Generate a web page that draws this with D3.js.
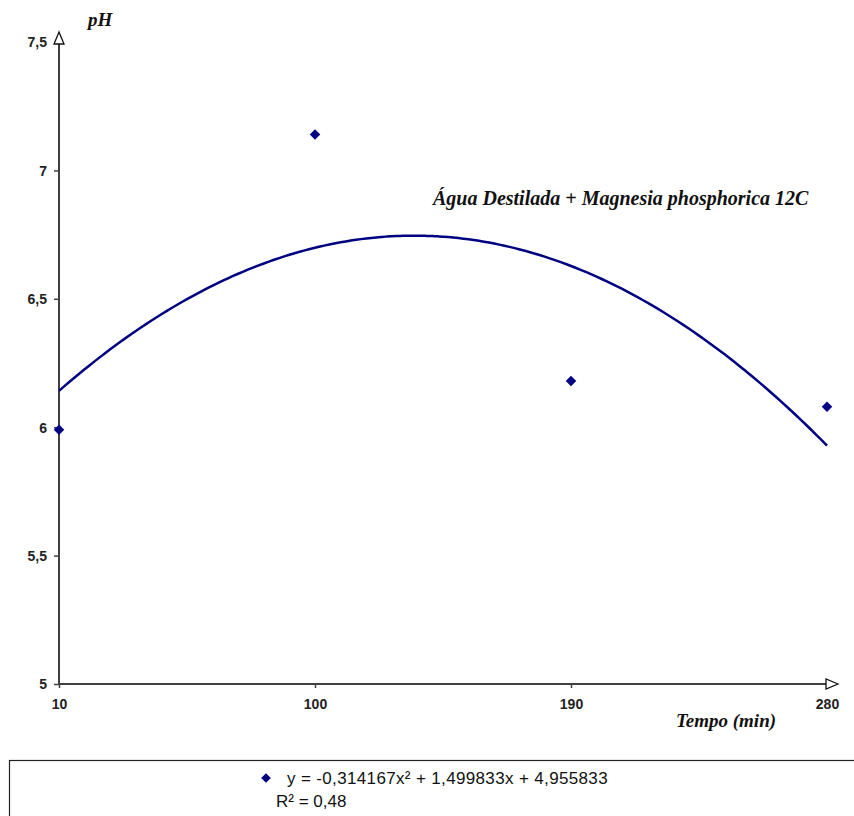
<!DOCTYPE html>
<html><head><meta charset="utf-8">
<script src="https://cdn.jsdelivr.net/npm/d3@7"></script>
<style>body{margin:0;background:#fff}svg{display:block}</style>
</head><body>
<script>
const categories = ["10", "100", "190", "280"];
const phValues = [5.99, 7.14, 6.18, 6.08];
const yTicks = [5, 5.5, 6, 6.5, 7, 7.5];
const trendCoef = [-0.314167, 1.499833, 4.955833]; // a x^2 + b x + c, x = 1..4
const equationLabel = "y = -0,314167x² + 1,499833x + 4,955833";
const r2Label = "R² = 0,48";
const annotation = "Água Destilada + Magnesia phosphorica 12C";

const W = 854, H = 816;
const svg = d3.select("body").append("svg").attr("width", W).attr("height", H);
const x = d3.scaleLinear().domain([1, 4]).range([59, 827]);
const y = d3.scaleLinear().domain([5, 7.5]).range([684, 42]);
const axisColor = "#404040";
const fmt = v => String(v).replace(".", ",");
const sans = "'Liberation Sans', Arial, sans-serif";

// Y axis
const ya = svg.append("g").attr("transform", `translate(${x(1)},0)`)
  .call(d3.axisLeft(y).tickValues(yTicks).tickSize(5).tickFormat(fmt));
ya.select(".domain").remove();
ya.selectAll(".tick line").attr("stroke", axisColor).attr("stroke-width", 1.5);
ya.selectAll(".tick text").attr("x", -12).attr("dy", "0.35em")
  .style("font-family", sans).style("font-size", "14px")
  .style("font-weight", "bold").attr("fill", "#222");
svg.append("line").attr("x1", x(1)).attr("x2", x(1)).attr("y1", y(5)).attr("y2", y(7.5) + 1)
  .attr("stroke", axisColor).attr("stroke-width", 2);
svg.append("path").attr("d", `M${x(1)},${y(7.5) - 10} L${x(1) - 5},${y(7.5) + 2} L${x(1) + 5},${y(7.5) + 2} Z`)
  .attr("fill", "#fff").attr("stroke", "#111").attr("stroke-width", 1.3);

// X axis
const xa = svg.append("g").attr("transform", `translate(0,${y(5)})`)
  .call(d3.axisBottom(x).tickValues([1, 2, 3, 4]).tickSize(4).tickFormat((d, i) => categories[i]));
xa.select(".domain").remove();
xa.selectAll(".tick line").attr("stroke", axisColor).attr("stroke-width", 1.5);
xa.selectAll(".tick text").attr("y", 15).attr("dy", "0.71em")
  .style("font-family", sans).style("font-size", "14px")
  .style("font-weight", "bold").attr("fill", "#222");
svg.append("line").attr("x1", x(1)).attr("x2", x(4)).attr("y1", y(5)).attr("y2", y(5))
  .attr("stroke", axisColor).attr("stroke-width", 2);
svg.append("path").attr("d", `M${x(4) + 11},${y(5)} L${x(4) - 1},${y(5) - 5} L${x(4) - 1},${y(5) + 5} Z`)
  .attr("fill", "#fff").attr("stroke", "#111").attr("stroke-width", 1.3);

// trendline
const xs = d3.range(1, 4.0001, 0.02);
const poly = t => trendCoef[0] * t * t + trendCoef[1] * t + trendCoef[2];
svg.append("path").datum(xs)
  .attr("d", d3.line().x(d => x(d)).y(d => y(poly(d))).curve(d3.curveMonotoneX))
  .attr("fill", "none").attr("stroke", "#000080").attr("stroke-width", 2.5);

// points
const diamond = d3.symbol().type(d3.symbolDiamond2).size(70);
svg.selectAll(".pt").data(phValues).enter().append("path")
  .attr("transform", (d, i) => `translate(${x(i + 1)},${y(d)})`)
  .attr("d", diamond).attr("fill", "#000080");

// titles
const serif = "'Liberation Serif', 'DejaVu Serif', serif";
svg.append("text").attr("x", 88).attr("y", 26).text("pH")
  .style("font-family", serif).style("font-style", "italic").style("font-weight", "bold")
  .style("font-size", "19px").attr("fill", "#111");
svg.append("text").attr("x", 726).attr("y", 727).attr("text-anchor", "middle").text("Tempo (min)")
  .style("font-family", serif).style("font-style", "italic").style("font-weight", "bold")
  .style("font-size", "19px").attr("fill", "#111");
svg.append("text").attr("x", 433).attr("y", 205).text(annotation)
  .style("font-family", serif).style("font-style", "italic").style("font-weight", "bold")
  .style("font-size", "20px").attr("fill", "#111");

// legend box
svg.append("rect").attr("x", 9.5).attr("y", 760.5).attr("width", 860).attr("height", 80)
  .attr("fill", "#fff").attr("stroke", "#222").attr("stroke-width", 1.2);
svg.append("path").attr("transform", "translate(266,778)").attr("d", d3.symbol().type(d3.symbolDiamond2).size(60))
  .attr("fill", "#000080");
svg.append("text").attr("x", 287).attr("y", 784).text(equationLabel)
  .style("font-family", sans).style("font-size", "17px").style("letter-spacing", "0.35px").attr("fill", "#111");
svg.append("text").attr("x", 276).attr("y", 807).text(r2Label)
  .style("font-family", sans).style("font-size", "17px").attr("fill", "#111");
</script>
</body></html>
